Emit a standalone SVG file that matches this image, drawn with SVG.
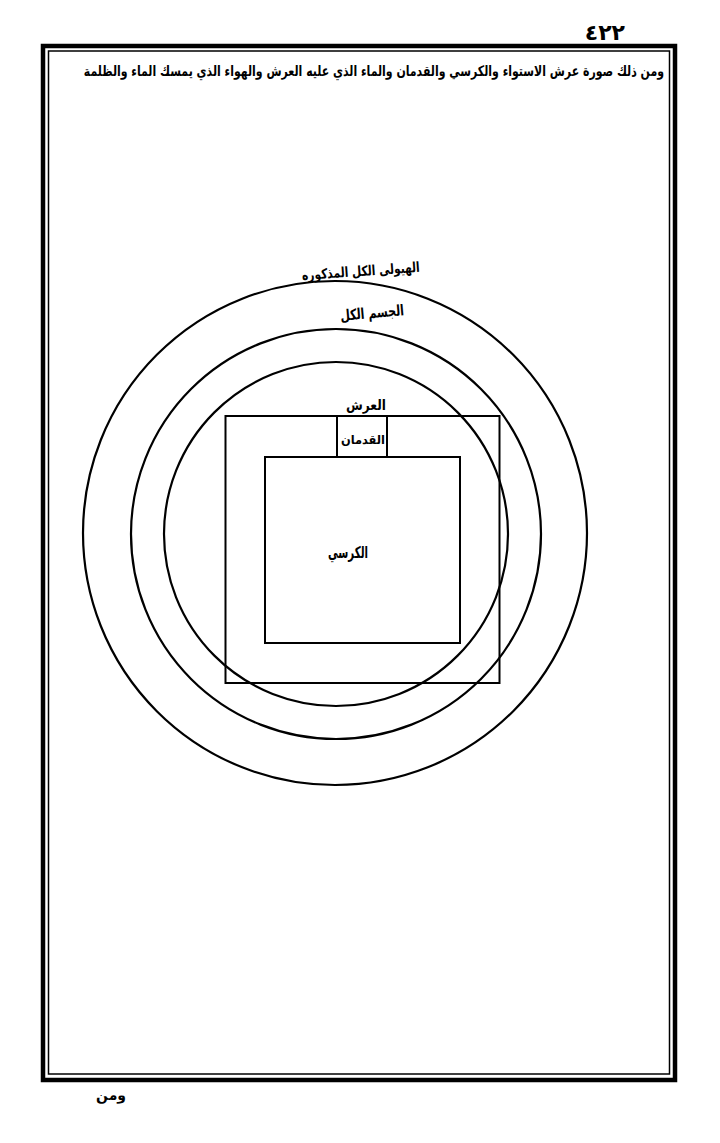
<svg xmlns="http://www.w3.org/2000/svg" width="720" height="1143" viewBox="0 0 720 1143">
<style>
.ar{font-family:"DejaVu Sans","Noto Sans",sans-serif;font-weight:bold;fill:#000}
.ln{fill:none;stroke:#000}
</style>
<rect width="720" height="1143" fill="#fff"/>
<g id="page-number"><text class="ar" x="625" y="40" font-size="22" text-anchor="end">٤٢٢</text></g>
<g id="frame">
<rect class="ln" x="43" y="46" width="632" height="1034" stroke-width="4.5"/>
<rect class="ln" x="48.5" y="51" width="621" height="1023" stroke-width="1.5"/>
</g>
<g id="header"><text class="ar" x="0" y="0" font-size="14.5" text-anchor="end" transform="translate(664 76) scale(0.755 1)">ومن ذلك صورة عرش الاستواء والكرسي والقدمان والماء الذي عليه العرش والهواء الذي يمسك الماء والظلمة</text></g>
<g id="circle-hayula"><circle class="ln" cx="335" cy="533" r="252" stroke-width="2.2"/>
<text class="ar" x="420" y="276" font-size="14" text-anchor="end" textLength="118" lengthAdjust="spacingAndGlyphs" transform="rotate(-4 360 274)">الهيولى الكل المذكوره</text></g>
<g id="circle-jism"><circle class="ln" cx="336" cy="534" r="205" stroke-width="2.2"/>
<text class="ar" x="404" y="318" font-size="15" text-anchor="end" textLength="64" lengthAdjust="spacingAndGlyphs" transform="rotate(-5 372 312)">الجسم الكل</text></g>
<g id="circle-inner"><circle class="ln" cx="336" cy="534" r="172" stroke-width="2.2"/></g>
<g id="arsh"><rect class="ln" x="225.5" y="416" width="274" height="267" stroke-width="2"/>
<text class="ar" x="386" y="410" font-size="14" text-anchor="end" textLength="40" lengthAdjust="spacingAndGlyphs">العرش</text></g>
<g id="qadaman"><rect class="ln" x="337" y="416" width="50" height="41" stroke-width="2"/>
<text class="ar" x="385" y="444" font-size="12" text-anchor="end" textLength="44" lengthAdjust="spacingAndGlyphs">القدمان</text></g>
<g id="kursi"><rect class="ln" x="265" y="457" width="195" height="186" stroke-width="2"/>
<text class="ar" x="368" y="558" font-size="16" text-anchor="end" textLength="40" lengthAdjust="spacingAndGlyphs">الكرسي</text></g>
<g id="catchword"><text class="ar" x="126" y="1100" font-size="14" text-anchor="end">ومن</text></g>
</svg>
